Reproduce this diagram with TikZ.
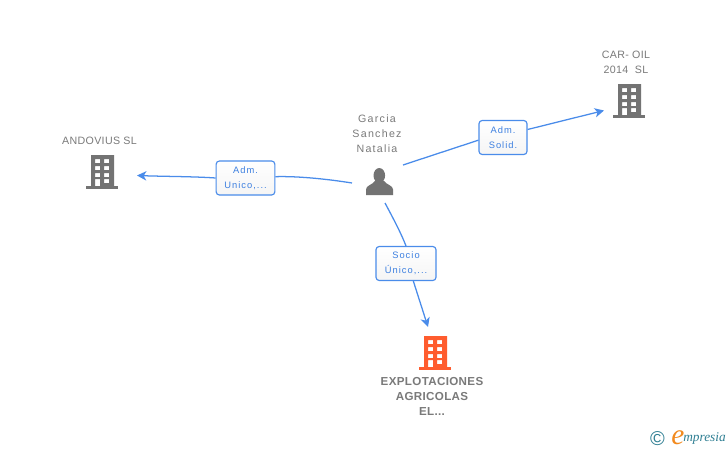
\documentclass[tikz,border=0pt]{standalone}
\usepackage{fontspec}
\setmainfont{Liberation Sans}
\newfontfamily\spaced[LetterSpace=12]{Liberation Sans}
\newfontfamily\capsfont[LetterSpace=3]{Liberation Sans}
\newfontfamily\boxfont[LetterSpace=11]{Liberation Sans}
\newfontfamily\boldfont[LetterSpace=3]{Liberation Sans}
\newfontfamily\logofont{Liberation Serif}
\usetikzlibrary{arrows.meta}
\definecolor{linkblue}{HTML}{4A8CEA}
\definecolor{boxtext}{HTML}{3C7FE0}
\definecolor{iconer}{HTML}{737373}
\definecolor{labelgr}{HTML}{7A7A7A}
\definecolor{orangeb}{HTML}{FF5C2E}
\definecolor{logoblue}{HTML}{2F7F93}
\definecolor{logoor}{HTML}{F28A1E}
\tikzset{
  x=0.75pt,y=-0.75pt,
  edgeline/.style={draw=linkblue,line width=0.95pt},
  arrowline/.style={edgeline,-{Stealth[length=7pt,width=7pt,inset=2pt]}},
  rolebox/.style={draw=linkblue,line width=0.85pt,rounded corners=2.4pt,top color=white,bottom color=white!96!black,
    minimum width=#1,minimum height=25.5pt,inner sep=0pt,align=center,text=boxtext,
    font=\boxfont\fontsize{7}{11.2}\selectfont},
  namelabel/.style={align=center,text=labelgr,inner sep=0pt,font=\spaced\fontsize{8}{11.2}\selectfont},
  capslabel/.style={align=center,text=labelgr,inner sep=0pt,font=\capsfont\fontsize{8}{11.2}\selectfont},
  boldlabel/.style={align=center,text=labelgr,inner sep=0pt,font=\boldfont\bfseries\fontsize{8.7}{11.3}\selectfont},
  pics/tower/.style={code={
    \fill[#1] (-5,31) rectangle (27,34);
    \fill[#1,even odd rule] (0,0) rectangle (23,31)
      (4,4) rectangle (9,8) (13,4) rectangle (18,8)
      (4,11) rectangle (9,15) (13,11) rectangle (18,15)
      (4,18) rectangle (9,22) (13,18) rectangle (18,22)
      (4,24) rectangle (9,31) (13,24) rectangle (18,28);
  }}
}
\begin{document}
\begin{tikzpicture}
\useasboundingbox (0,0) rectangle (728,450);
\fill[white] (0,0) rectangle (728,450);

% buildings
\pic at (91,155) {tower=iconer};
\pic at (618,84) {tower=iconer};
\pic at (424,336) {tower=orangeb};

% person
\fill[iconer] (379.3,175.5) ellipse[x radius=5.8,y radius=7.5];
\fill[iconer] (366,195) -- (366,189.5) .. controls (366,185.5) and (372,185) .. (375,181) -- (384,181)
  .. controls (387,185) and (393,185.5) .. (393,189.5) -- (393,195) -- cycle;

% labels
\node[namelabel] (garcia) at (377,134) {Garcia\\Sanchez\\Natalia};
\node[capslabel] (andovius) at (99.5,141) {ANDOVIUS SL};
\node[capslabel] (caroil) at (626,62.5) {CAR- OIL\\2014\ \ SL};
\node[boldlabel] (explo) at (432,396.5) {EXPLOTACIONES\\AGRICOLAS\\EL...};

% role boxes
\node[rolebox=44pt] (adm1) at (245.5,178) {Adm.\\Unico,...};
\node[rolebox=36pt] (adm2) at (503,137.5) {Adm.\\Solid.};
\node[rolebox=45pt] (socio) at (406,263.5) {Socio\\Único,...};

% connector ends
\coordinate (pw) at (352,183);
\coordinate (pe) at (403,165);
\coordinate (ps) at (385,203);
\coordinate (andoend) at (137,175.5);
\coordinate (carend) at (604,110.5);
\coordinate (exploend) at (428,327);

% connectors
\draw[edgeline] (pw) .. controls (330,179.5) and (300,176) .. ([yshift=1pt]adm1.east);
\draw[arrowline] (adm1.west) .. controls (195,176.5) and (165,176.5) .. (andoend);
\draw[edgeline] (pe) -- ([yshift=-2pt]adm2.west);
\draw[arrowline] ([yshift=6pt]adm2.east) -- (carend);
\draw[edgeline] (ps) .. controls (393,218) and (401,233) .. (socio.north);
\draw[arrowline] ([xshift=5.5pt]socio.south) -- (exploend);

% logo
\node[inner sep=0pt,text=logoblue,font=\fontsize{15}{15}\selectfont] (copy) at (657.5,439) {©};
\node[inner sep=0pt,text=logoor,font=\logofont\itshape\fontsize{22}{22}\selectfont] (ele) at (678,438) {e};
\node[inner sep=0pt,anchor=west,text=logoblue,font=\logofont\itshape\fontsize{10}{10}\selectfont] (mpr) at (683,438.5) {mpresia};
\end{tikzpicture}
\end{document}
